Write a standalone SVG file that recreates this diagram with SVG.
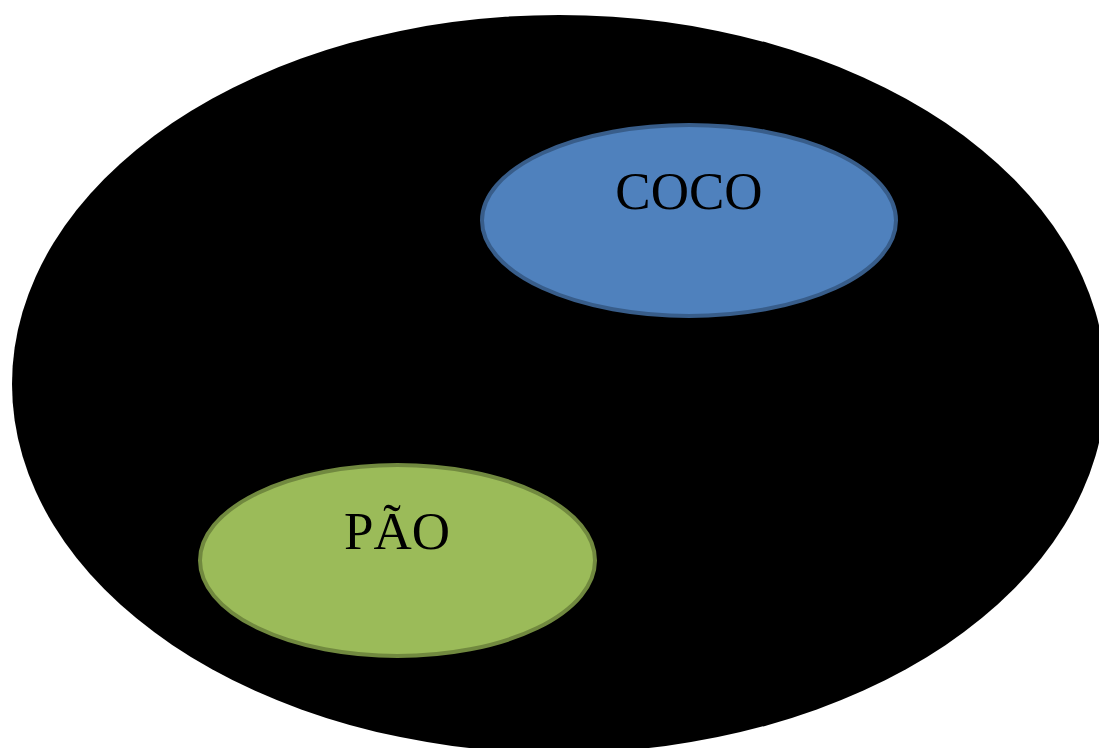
<svg xmlns="http://www.w3.org/2000/svg" width="1099" height="748" viewBox="0 0 1099 748">
<style>
.lbl{font-family:"Liberation Serif","DejaVu Serif",serif;font-size:53px;fill:#000;text-anchor:middle}
</style>
<rect width="1099" height="748" fill="#fff"/>
<g id="universe"><ellipse cx="559" cy="384" rx="547" ry="369" fill="#000"/></g>
<g id="coco">
<ellipse cx="689" cy="220.5" rx="207" ry="95.5" fill="#4F81BD" stroke="#385D8A" stroke-width="4"/>
<text class="lbl" x="689" y="209">COCO</text>
</g>
<g id="pao">
<ellipse cx="397.5" cy="560.5" rx="197.5" ry="95.5" fill="#9BBB59" stroke="#71893F" stroke-width="4"/>
<text class="lbl" x="397" y="549">PÃO</text>
</g>
<g id="connectors"/>
</svg>
